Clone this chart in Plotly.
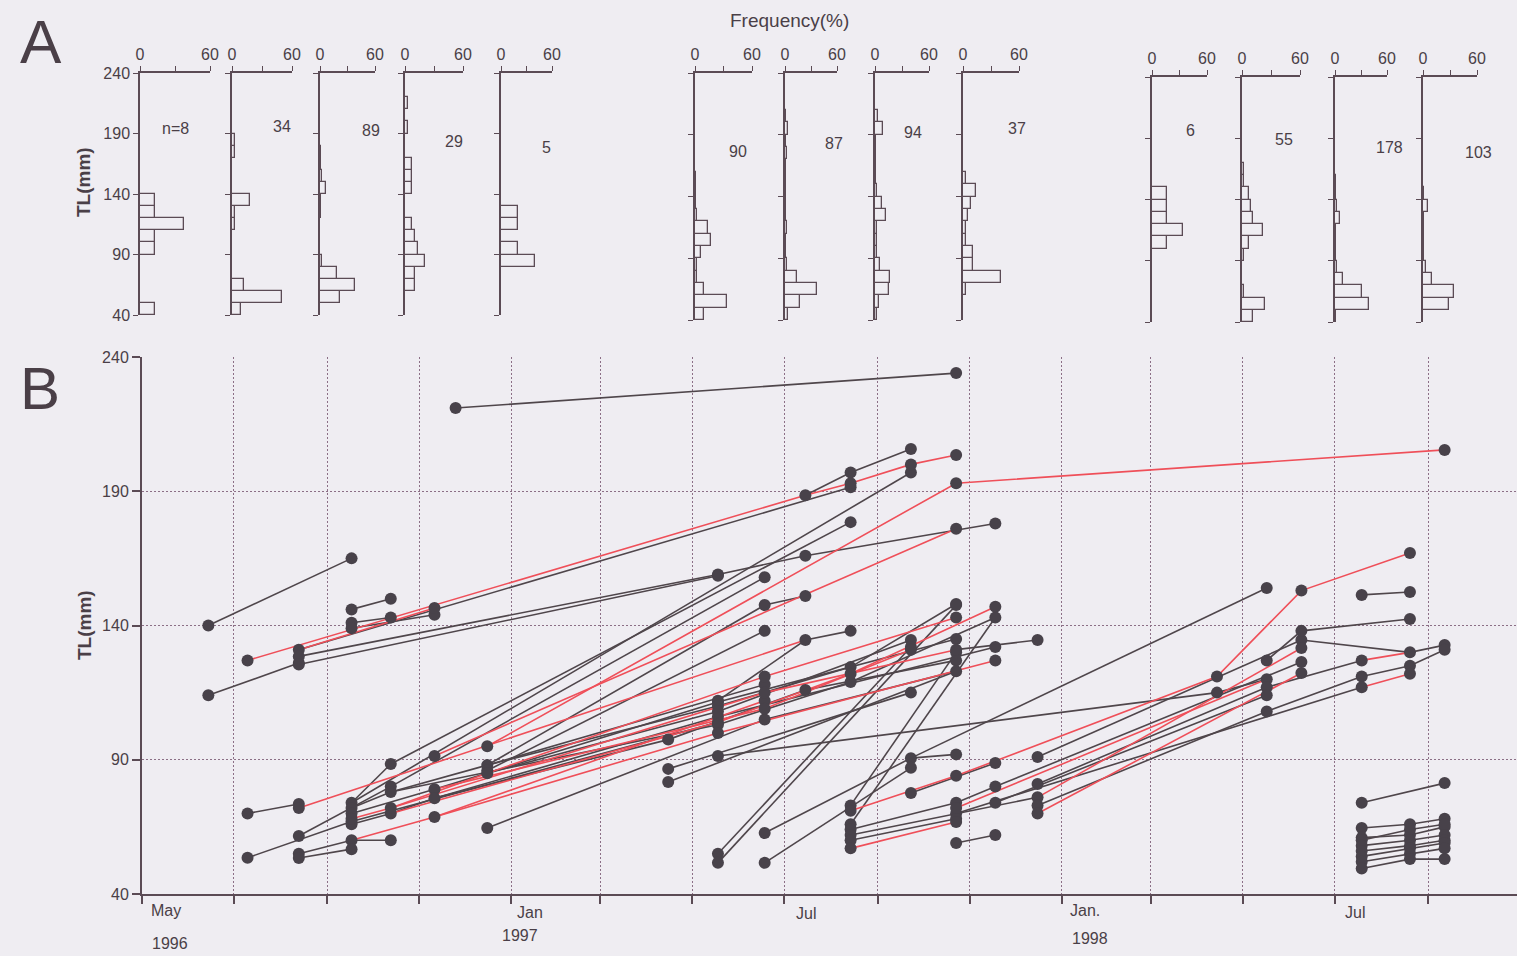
import plotly.graph_objects as go

W, H = 1517, 956
BG = "#efedf2"
INK = "#4a3f47"
AX = "#5b4b55"
GRID = "#8c6f86"
BLACK_LINE = "#4f464b"
RED_LINE = "#ef4f59"
DOT = "#48424a"
FONT = "Liberation Sans, Arial, sans-serif"

# ---------------- Panel A data: length-frequency (%) per 10 mm bin ----------------
bin_lower = list(range(40, 240, 10))
hist_labels = ["n=8", "34", "89", "29", "5", "90", "87", "94", "37", "6", "55", "178", "103"]
h1 = [12.5, 0, 0, 0, 0, 12.5, 12.5, 37.5, 12.5, 12.5, 0, 0, 0, 0, 0, 0, 0, 0, 0, 0]
h2 = [8.8, 50, 11.8, 0, 0, 0, 0, 2.9, 2.9, 17.6, 0, 0, 0, 2.9, 2.9, 0, 0, 0, 0, 0]
h3 = [0, 21.3, 38.2, 18, 2.2, 0, 0, 0, 1.1, 1.1, 6.7, 2.2, 1.1, 1.1, 0, 0, 0, 0, 0, 0]
h4 = [0, 0, 10.3, 10.3, 20.7, 13.8, 10.3, 6.9, 0, 0, 6.9, 6.9, 6.9, 0, 0, 3.4, 0, 3.4, 0, 0]
h5 = [0, 0, 0, 0, 40, 20, 0, 20, 20, 0, 0, 0, 0, 0, 0, 0, 0, 0, 0, 0]
h6 = [9, 34, 9, 2, 2, 6, 17, 14, 2, 1, 1, 1, 0, 0, 0, 0, 0, 0, 0, 0]
h7 = [3, 17, 37, 14, 2, 1, 1, 2, 1, 1, 1, 1, 1, 2, 1, 3, 1, 0, 0, 0]
h8 = [2, 4, 15, 17, 5, 2, 2, 2, 12, 7.4, 2, 1, 1, 1, 1, 8.5, 3, 0, 0, 0]
h9 = [0, 0, 2.7, 40.5, 10.8, 10.8, 2.7, 2.7, 5.4, 8.1, 13.5, 2.7, 0, 0, 0, 0, 0, 0, 0, 0]
h10 = [0, 0, 0, 0, 0, 0, 16.7, 33.3, 16.7, 16.7, 16.7, 0, 0, 0, 0, 0, 0, 0, 0, 0]
h11 = [10.9, 23.6, 1.8, 0, 0, 1.8, 7.3, 21.8, 10.9, 9.1, 7.3, 1.8, 1.8, 0, 0, 0, 0, 0, 0, 0]
h12 = [1, 38.7, 31, 9.7, 2, 1, 1, 1, 5.6, 2, 1, 0.6, 0, 0, 0, 0, 0, 0, 0, 0]
h13 = [0, 29, 34.5, 10.5, 3, 1, 1, 1, 1, 5.6, 1, 0, 0, 0, 0, 0, 0, 0, 0, 0]
hist_pct = [h1, h2, h3, h4, h5, h6, h7, h8, h9, h10, h11, h12, h13]

# ---------------- Panel B data: tagged fish TL (mm), capture -> recapture ----------------
tracks_black = [
    [("1996-06-14", 140), ("1996-09-17", 165)],
    [("1996-06-14", 114), ("1996-08-13", 126)],
    [("1996-08-13", 131), ("1997-08-14", 191.5)],
    [("1997-07-15", 188.5), ("1997-08-14", 197), ("1997-09-23", 205.7)],
    [("1996-09-17", 146), ("1996-10-13", 150)],
    [("1996-09-17", 141), ("1996-10-13", 143)],
    [("1996-09-17", 139), ("1996-11-11", 144)],
    [("1996-08-13", 128.5), ("1997-05-18", 159)],
    [("1996-08-13", 125.5), ("1997-05-18", 158.5)],
    [("1996-11-25", 221), ("1997-10-23", 234)],
    [("1997-05-18", 159), ("1997-07-15", 166), ("1997-11-18", 178)],
    [("1996-10-13", 88.4), ("1997-08-14", 178.5)],
    [("1996-09-17", 74), ("1997-09-23", 197)],
    [("1996-10-13", 80), ("1997-06-18", 158)],
    [("1996-12-16", 88), ("1997-06-18", 147.6), ("1997-07-15", 151)],
    [("1996-12-16", 86), ("1997-06-18", 138)],
    [("1997-05-18", 112), ("1997-07-15", 134.6), ("1997-08-14", 138)],
    [("1996-07-10", 70), ("1996-08-13", 73.5)],
    [("1996-07-10", 53.5), ("1996-09-17", 67), ("1997-05-18", 104)],
    [("1996-08-13", 61.6), ("1996-10-13", 80)],
    [("1996-08-13", 55), ("1996-09-17", 60), ("1996-10-13", 60)],
    [("1996-08-13", 53.4), ("1996-09-17", 56.7)],
    [("1996-09-17", 74), ("1996-10-13", 88.4)],
    [("1996-09-17", 72), ("1996-10-13", 78), ("1996-12-16", 88), ("1997-06-18", 118)],
    [("1996-09-17", 70), ("1996-11-11", 79), ("1997-05-18", 111.5), ("1997-10-23", 135)],
    [("1996-09-17", 66), ("1996-10-13", 70), ("1996-11-11", 75.7), ("1997-05-18", 106), ("1997-11-18", 132)],
    [("1996-11-11", 75.7), ("1997-04-15", 97.5), ("1997-07-15", 116), ("1997-10-23", 127)],
    [("1996-12-16", 64.6), ("1997-06-18", 105), ("1997-10-23", 123)],
    [("1996-12-16", 88), ("1997-05-18", 110), ("1997-08-14", 124.5), ("1997-10-23", 148)],
    [("1997-04-15", 86.6), ("1997-09-23", 115)],
    [("1997-04-15", 81.7), ("1997-10-23", 123)],
    [("1996-12-16", 85), ("1997-05-18", 108), ("1997-09-23", 134.6)],
    [("1996-10-13", 78), ("1997-05-18", 103), ("1997-08-14", 119), ("1997-11-18", 143)],
    [("1997-05-18", 91.4), ("1998-04-14", 115), ("1998-05-17", 120)],
    [("1997-05-18", 55), ("1997-09-23", 132)],
    [("1997-05-18", 51.6), ("1997-10-23", 147.6)],
    [("1997-06-18", 62.7), ("1997-09-23", 90.6), ("1997-10-23", 92)],
    [("1997-06-18", 51.6), ("1997-09-23", 87)],
    [("1997-08-14", 73), ("1997-10-23", 130)],
    [("1997-08-14", 66), ("1997-11-18", 143)],
    [("1997-08-14", 64), ("1997-10-23", 74), ("1997-11-18", 80)],
    [("1997-08-14", 62), ("1997-10-23", 70), ("1997-12-16", 76)],
    [("1997-08-14", 60), ("1997-10-23", 68)],
    [("1997-10-23", 59), ("1997-11-18", 62)],
    [("1997-09-23", 77.6), ("1997-11-18", 88.8)],
    [("1997-09-23", 90.6), ("1998-05-17", 154)],
    [("1997-10-23", 131), ("1997-12-16", 134.6)],
    [("1997-12-16", 91), ("1998-06-09", 134.6)],
    [("1997-12-16", 81), ("1998-05-17", 117), ("1998-07-19", 127)],
    [("1997-12-16", 73), ("1998-05-17", 108), ("1998-07-19", 121)],
    [("1997-11-18", 80), ("1998-06-09", 126.4)],
    [("1997-11-18", 74), ("1998-05-17", 114)],
    [("1997-10-23", 70), ("1998-07-19", 117)],
    [("1998-05-17", 127), ("1998-06-09", 138), ("1998-08-20", 142.4)],
    [("1998-06-09", 134.6), ("1998-08-20", 130), ("1998-09-12", 132.7)],
    [("1998-07-19", 121), ("1998-08-20", 125), ("1998-09-12", 131)],
    [("1998-07-19", 151.4), ("1998-08-20", 152.5)],
    [("1998-07-19", 74), ("1998-09-12", 81.3)],
    [("1998-07-19", 64.6), ("1998-08-20", 66), ("1998-09-12", 68)],
    [("1998-07-19", 61), ("1998-08-20", 62), ("1998-09-12", 65)],
    [("1998-07-19", 60), ("1998-08-20", 64), ("1998-09-12", 66)],
    [("1998-07-19", 58), ("1998-08-20", 60), ("1998-09-12", 62)],
    [("1998-07-19", 56), ("1998-08-20", 58), ("1998-09-12", 60)],
    [("1998-07-19", 54), ("1998-08-20", 57), ("1998-09-12", 59)],
    [("1998-07-19", 52), ("1998-08-20", 55), ("1998-09-12", 57)],
    [("1998-07-19", 49.5), ("1998-08-20", 53), ("1998-09-12", 53)],
]

tracks_red = [
    [("1996-07-10", 127), ("1997-07-15", 188.5), ("1997-08-14", 193), ("1997-09-23", 200), ("1997-10-23", 203.5)],
    [("1996-08-13", 131), ("1996-11-11", 146.5)],
    [("1996-12-16", 95), ("1997-10-23", 193), ("1998-09-12", 205.4)],
    [("1996-11-11", 91.4), ("1997-10-23", 176)],
    [("1996-08-13", 72), ("1997-07-15", 134.6)],
    [("1996-09-17", 60), ("1996-11-11", 68.7), ("1997-06-18", 112)],
    [("1996-09-17", 68), ("1996-10-13", 72), ("1997-06-18", 115), ("1997-10-23", 131)],
    [("1996-10-13", 72), ("1996-12-16", 85), ("1997-06-18", 121), ("1997-10-23", 143)],
    [("1996-11-11", 68.7), ("1997-05-18", 100), ("1997-11-18", 127)],
    [("1996-10-13", 70), ("1997-05-18", 104), ("1997-08-14", 122), ("1997-11-18", 147)],
    [("1996-11-11", 79), ("1997-06-18", 109), ("1997-09-23", 131)],
    [("1997-08-14", 71), ("1997-10-23", 84), ("1998-04-14", 121), ("1998-06-09", 153), ("1998-08-20", 167)],
    [("1997-08-14", 57), ("1997-10-23", 66.8)],
    [("1997-12-16", 76), ("1998-06-09", 131.6)],
    [("1997-12-16", 70), ("1998-06-09", 122.3)],
    [("1997-10-23", 72), ("1998-05-17", 120)],
    [("1998-07-19", 127), ("1998-08-20", 130)],
    [("1998-07-19", 117), ("1998-08-20", 122)],
]

y_ticks = [40, 90, 140, 190, 240]
grid_months = ["1996-05-01", "1996-07-01", "1996-09-01", "1996-11-01", "1997-01-01", "1997-03-01",
               "1997-05-01", "1997-07-01", "1997-09-01", "1997-11-01", "1998-01-01", "1998-03-01",
               "1998-05-01", "1998-07-01", "1998-09-01"]


def px_x(p):
    return p / W


def px_y(p):
    return 1 - p / H


fig = go.Figure()

# ---------- Panel B ----------
def seg_xy(tracks):
    xs, ys = [], []
    for t in tracks:
        for d, v in t:
            xs.append(d)
            ys.append(v)
        xs.append(None)
        ys.append(None)
    return xs, ys

bx, by = seg_xy(tracks_black)
rx, ry = seg_xy(tracks_red)
fig.add_trace(go.Scatter(x=bx, y=by, mode="lines", line=dict(color=BLACK_LINE, width=1.6),
                         showlegend=False, hoverinfo="skip", xaxis="x", yaxis="y"))
fig.add_trace(go.Scatter(x=rx, y=ry, mode="lines", line=dict(color=RED_LINE, width=1.6),
                         showlegend=False, hoverinfo="skip", xaxis="x", yaxis="y"))
pts = []
for t in tracks_black + tracks_red:
    for p in t:
        if p not in pts:
            pts.append(p)
fig.add_trace(go.Scatter(x=[p[0] for p in pts], y=[p[1] for p in pts], mode="markers",
                         marker=dict(color=DOT, size=12, line=dict(width=0)),
                         showlegend=False, xaxis="x", yaxis="y"))

layout = dict(
    width=W, height=H, autosize=False,
    margin=dict(l=0, r=0, t=0, b=0, pad=0),
    paper_bgcolor=BG, plot_bgcolor=BG,
    font=dict(family=FONT, color=INK, size=15),
    showlegend=False,
    xaxis=dict(type="date", domain=[px_x(142), 1.0], anchor="y", automargin=False,
               range=["1996-05-01", "1998-10-30"],
               tickmode="array", tickvals=grid_months, ticktext=[""] * len(grid_months),
               ticks="outside", ticklen=8, tickwidth=1.5, tickcolor=AX,
               showline=True, linecolor=AX, linewidth=2,
               showgrid=True, gridcolor=GRID, griddash="2px,2px", gridwidth=1.2, zeroline=False),
    yaxis=dict(domain=[px_y(894), px_y(357)], anchor="x", range=[40, 240], automargin=False,
               tickmode="array", tickvals=y_ticks, ticks="outside", ticklen=8, tickwidth=1.5,
               tickcolor=AX, tickfont=dict(size=16, color=INK),
               showline=True, linecolor=AX, linewidth=2,
               showgrid=True, gridcolor=GRID, griddash="2px,2px", gridwidth=1.2, zeroline=False),
)

# ---------- Panel A ----------
hist_x_px = [(140, 210), (232, 292), (320, 375), (405, 463), (501, 552),
             (695, 752), (785, 837), (875, 929), (963, 1019),
             (1152, 1207), (1242, 1300), (1335, 1387), (1423, 1477)]
hist_y_px = [(73, 315)] * 5 + [(73, 320)] * 4 + [(77, 322)] * 4
label_px = [(175, 128), (282, 126), (371, 131), (454, 142), (546, 147),
            (738, 152), (834, 144), (913, 133), (1017, 128),
            (1190, 131), (1284, 139), (1389, 147), (1478, 153)]

n_h = len(hist_pct)
centers = [b + 5 for b in bin_lower]
for i, pct in enumerate(hist_pct):
    k = i + 2
    yy = [c for c, v in zip(centers, pct) if v > 0]
    xx = [v for v in pct if v > 0]
    fig.add_trace(go.Bar(x=xx, y=yy, orientation="h", width=10,
                         marker=dict(color=BG, line=dict(color=AX, width=1.3)),
                         showlegend=False, xaxis=f"x{k}", yaxis=f"y{k}"))
    x0, x1 = hist_x_px[i]
    y0, y1 = hist_y_px[i]
    layout[f"xaxis{k}"] = dict(domain=[px_x(x0), px_x(x1)], anchor=f"y{k}", side="top",
                               automargin=False,
                               range=[0, 60], tickmode="array", tickvals=[0, 30, 60],
                               ticktext=["0", "", "60"], ticks="outside", ticklen=5,
                               tickcolor=AX, tickwidth=1.3,
                               tickfont=dict(size=16, color=INK),
                               showline=True, linecolor=AX, linewidth=1.5,
                               showgrid=False, zeroline=False, fixedrange=True)
    layout[f"yaxis{k}"] = dict(domain=[px_y(y1), px_y(y0)], anchor=f"x{k}", range=[40, 240],
                               automargin=False,
                               tickmode="array", tickvals=y_ticks, ticks="outside", ticklen=5,
                               tickcolor=AX, tickwidth=1.3, showticklabels=(i == 0),
                               tickfont=dict(size=16, color=INK),
                               showline=True, linecolor=AX, linewidth=1.5,
                               showgrid=False, zeroline=False, fixedrange=True)
    # overlay axis giving the inner half of the crossing ticks
    k2 = k + n_h
    layout[f"yaxis{k2}"] = dict(overlaying=f"y{k}", anchor=f"x{k}", range=[40, 240],
                                automargin=False, side="left",
                                tickmode="array", tickvals=y_ticks, ticks="inside", ticklen=5,
                                tickcolor=AX, tickwidth=1.3, showticklabels=False,
                                showline=False, showgrid=False, zeroline=False, fixedrange=True)

fig.update_layout(**layout)

ann = []


def lab(x, y, t, size=15, **kw):
    d = dict(x=px_x(x), y=px_y(y), xref="paper", yref="paper", text=t, showarrow=False,
             xanchor="center", yanchor="middle",
             font=dict(size=size, color=INK, family=FONT))
    d.update(kw)
    ann.append(d)


for (lx, ly), txt in zip(label_px, hist_labels):
    lab(lx, ly, txt, 16)

lab(789, 20, "Frequency(%)", 19)
lab(41, 42, "A", 62)
lab(40, 388, "B", 60)
lab(84, 182, "<b>TL(mm)</b>", 19, textangle=-90)
lab(84, 625, "<b>TL(mm)</b>", 19, textangle=-90)
lab(166, 910, "May", 16)
lab(170, 943, "1996", 16)
lab(530, 912, "Jan", 16)
lab(520, 935, "1997", 16)
lab(806, 913, "Jul", 16)
lab(1085, 910, "Jan.", 16)
lab(1090, 938, "1998", 16)
lab(1355, 912, "Jul", 16)

fig.update_layout(annotations=ann, bargap=0)
fig.write_html("out.html")
